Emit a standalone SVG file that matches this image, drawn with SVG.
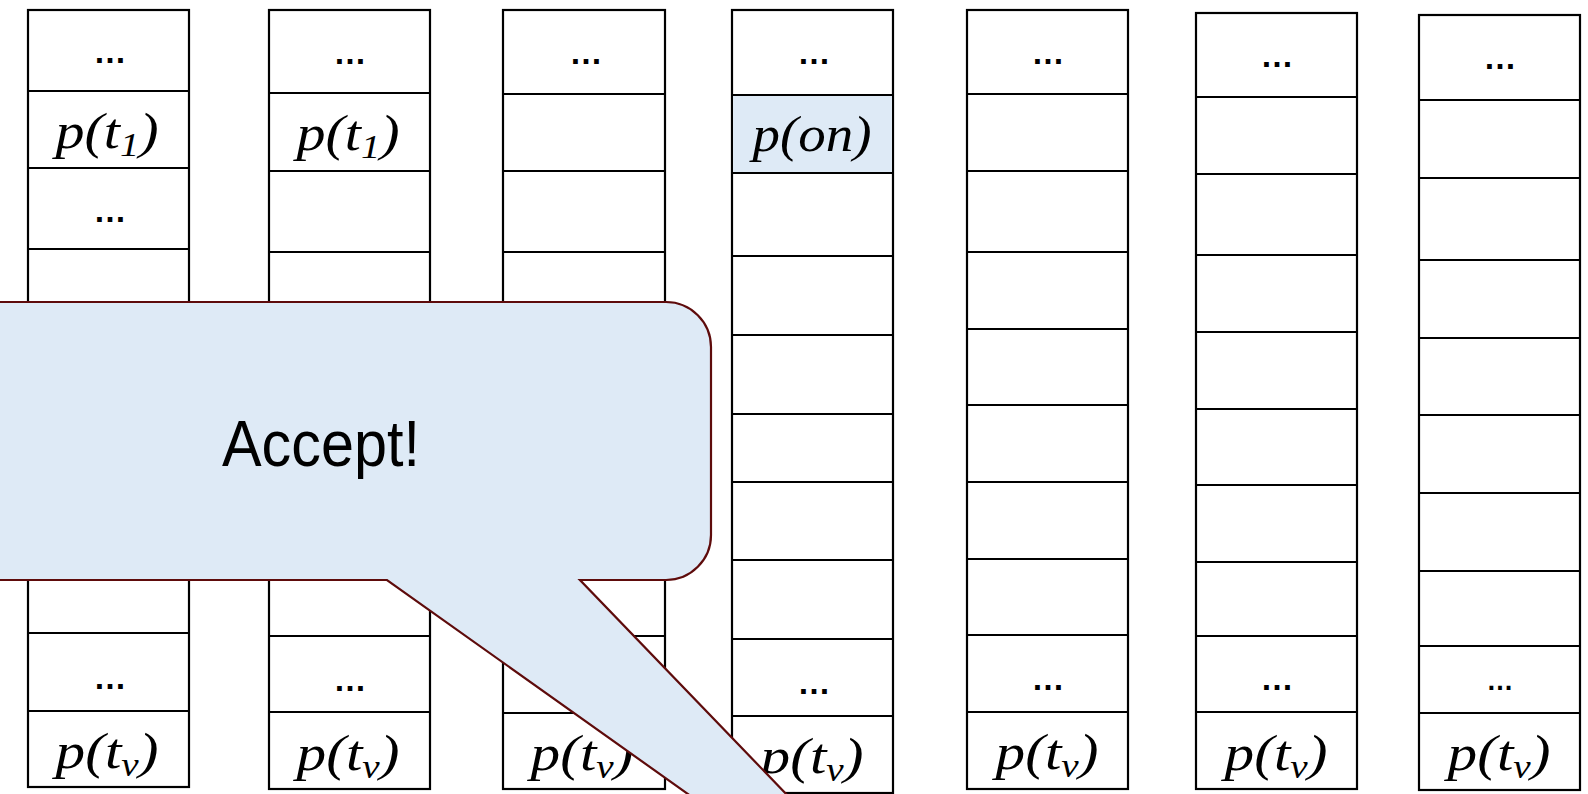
<svg xmlns="http://www.w3.org/2000/svg" width="1588" height="794" viewBox="0 0 1588 794">
<style>
.col{fill:#ffffff;stroke:#000000;stroke-width:2.2}
.sep{stroke:#000000;stroke-width:2.2}
.hl{fill:#DEEAF6;stroke:none}
.math{font-family:"Liberation Serif","DejaVu Serif",serif;font-style:italic;font-size:50px;fill:#000000;text-anchor:middle}
.sub{font-size:33px}
.dots{font-family:"Liberation Sans","DejaVu Sans",sans-serif;font-size:33px;font-weight:bold;fill:#000000;text-anchor:middle}
.callout{fill:#DEEAF6;stroke:#5E0B0B;stroke-width:2.2}
.label{font-family:"Liberation Sans","Noto Sans",sans-serif;font-size:64px;fill:#000000;text-anchor:middle}
</style>
<rect x="0" y="0" width="1588" height="794" fill="#ffffff"/>

<g id="col1">
<rect class="col" x="28" y="10" width="161" height="777"/>
<path class="sep" d="M28 91H189M28 168H189M28 249H189M28 327H189M28 405H189M28 483H189M28 556H189M28 633H189M28 711H189"/>
<text class="dots" x="110" y="63">…</text>
<text class="math" x="107" y="148" textLength="103" lengthAdjust="spacingAndGlyphs">p(t<tspan class="sub" dy="8">1</tspan><tspan dy="-8">)</tspan></text>
<text class="dots" x="110" y="222">…</text>
<text class="dots" x="110" y="689">…</text>
<text class="math" x="107" y="768" textLength="103" lengthAdjust="spacingAndGlyphs">p(t<tspan class="sub" dy="8">v</tspan><tspan dy="-8">)</tspan></text>
</g>

<g id="col2">
<rect class="col" x="269" y="10" width="161" height="779"/>
<path class="sep" d="M269 93H430M269 171H430M269 252H430M269 330H430M269 408H430M269 485H430M269 560H430M269 636H430M269 712H430"/>
<text class="dots" x="350" y="64">…</text>
<text class="math" x="348" y="150" textLength="103" lengthAdjust="spacingAndGlyphs">p(t<tspan class="sub" dy="8">1</tspan><tspan dy="-8">)</tspan></text>
<text class="dots" x="350" y="691">…</text>
<text class="math" x="348" y="770" textLength="103" lengthAdjust="spacingAndGlyphs">p(t<tspan class="sub" dy="8">v</tspan><tspan dy="-8">)</tspan></text>
</g>

<g id="col3">
<rect class="col" x="503" y="10" width="162" height="779"/>
<path class="sep" d="M503 94H665M503 171H665M503 252H665M503 330H665M503 408H665M503 485H665M503 560H665M503 636H665M503 713H665"/>
<text class="dots" x="586" y="64">…</text>
<text class="math" x="582" y="770" textLength="103" lengthAdjust="spacingAndGlyphs">p(t<tspan class="sub" dy="8">v</tspan><tspan dy="-8">)</tspan></text>
</g>

<g id="col4">
<rect class="col" x="732" y="10" width="161" height="783"/>
<rect class="hl" x="733.1" y="96" width="158.8" height="76"/>
<path class="sep" d="M732 95H893M732 173H893M732 256H893M732 335H893M732 414H893M732 482H893M732 560H893M732 639H893M732 716H893"/>
<text class="dots" x="814" y="64">…</text>
<text class="math" x="812" y="151" textLength="119" lengthAdjust="spacingAndGlyphs">p(on)</text>
<text class="dots" x="814" y="694">…</text>
<text class="math" x="812" y="773" textLength="103" lengthAdjust="spacingAndGlyphs">p(t<tspan class="sub" dy="8">v</tspan><tspan dy="-8">)</tspan></text>
</g>

<g id="col5">
<rect class="col" x="967" y="10" width="161" height="779"/>
<path class="sep" d="M967 94H1128M967 171H1128M967 252H1128M967 329H1128M967 405H1128M967 482H1128M967 559H1128M967 635H1128M967 712H1128"/>
<text class="dots" x="1048" y="64">…</text>
<text class="dots" x="1048" y="690">…</text>
<text class="math" x="1047" y="769" textLength="103" lengthAdjust="spacingAndGlyphs">p(t<tspan class="sub" dy="8">v</tspan><tspan dy="-8">)</tspan></text>
</g>

<g id="col6">
<rect class="col" x="1196" y="13" width="161" height="776"/>
<path class="sep" d="M1196 97H1357M1196 174H1357M1196 255H1357M1196 332H1357M1196 409H1357M1196 485H1357M1196 562H1357M1196 636H1357M1196 712H1357"/>
<text class="dots" x="1277" y="67">…</text>
<text class="dots" x="1277" y="690">…</text>
<text class="math" x="1276" y="770" textLength="103" lengthAdjust="spacingAndGlyphs">p(t<tspan class="sub" dy="8">v</tspan><tspan dy="-8">)</tspan></text>
</g>

<g id="col7">
<rect class="col" x="1419" y="15" width="161" height="775"/>
<path class="sep" d="M1419 100H1580M1419 178H1580M1419 260H1580M1419 338H1580M1419 415H1580M1419 493H1580M1419 571H1580M1419 646H1580M1419 713H1580"/>
<text class="dots" x="1500" y="69">…</text>
<text class="dots" x="1500" y="690" style="font-size:27px">…</text>
<text class="math" x="1499" y="770" textLength="103" lengthAdjust="spacingAndGlyphs">p(t<tspan class="sub" dy="8">v</tspan><tspan dy="-8">)</tspan></text>
</g>

<g id="callout">
<path class="callout" d="M-50 302H666A45 45 0 0 1 711 347V535A45 45 0 0 1 666 580H580L1000 1016L387 580H-50Z"/>
<text class="label" x="321" y="466" textLength="198" lengthAdjust="spacingAndGlyphs">Accept!</text>
</g>
</svg>
